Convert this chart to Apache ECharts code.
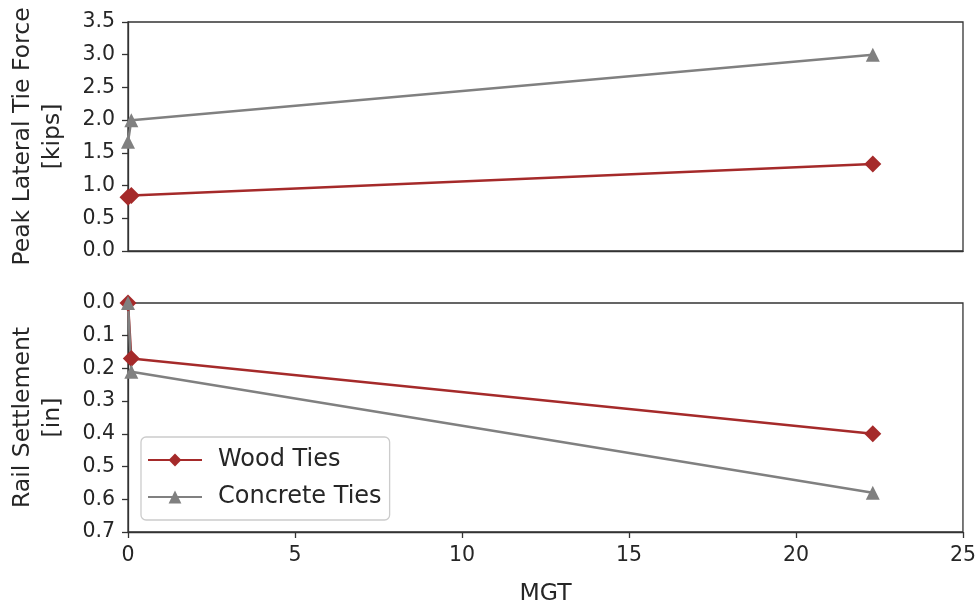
<!DOCTYPE html>
<html><head><meta charset="utf-8">
<script src="https://cdn.jsdelivr.net/npm/echarts@6/dist/echarts.min.js"></script>
<style>html,body{margin:0;padding:0;background:#fff}#c{width:979px;height:607px}</style>
</head><body><div id="c"></div>
<script>
const mgt = [0, 0.1, 22.3];
const woodForce = [0.82, 0.85, 1.33];
const concreteForce = [1.67, 2.0, 3.0];
const woodSettle = [0, 0.17, 0.40];
const concreteSettle = [0, 0.21, 0.58];
const xTicks = [0, 5, 10, 15, 20, 25];

const pairs = (xs, ys) => xs.map((x, i) => [x, ys[i]]);
const FONT = 'DejaVu Sans';
const TXT = '#262626';
const AX = '#333';
const RED = '#a52a2a';
const GREY = '#808080';

const chart = echarts.init(document.getElementById('c'), null, {renderer: 'canvas'});
const gridCommon = {left: 127, right: 16, height: 229, show: true, borderColor: AX, borderWidth: 1.3, containLabel: false};
const yCommon = {
  type: 'value', position: 'left',
  axisLine: {show: true, onZero: false, lineStyle: {color: AX, width: 1.3}},
  axisTick: {show: true, length: 6, inside: false, lineStyle: {color: AX, width: 1.3}},
  axisLabel: {color: TXT, fontFamily: FONT, fontSize: 20.5, margin: 13},
  splitLine: {show: false},
  nameLocation: 'middle', nameRotate: 90,
  nameTextStyle: {color: TXT, fontFamily: FONT, fontSize: 23.5, lineHeight: 30, align: 'center'}
};
const seriesCommon = (name, color, symbol, size, xAxisIndex, data) => ({
  name, type: 'line', xAxisIndex, yAxisIndex: xAxisIndex, data,
  symbol, symbolSize: size, showSymbol: true, clip: false, animation: false,
  lineStyle: {color, width: 2.5}, itemStyle: {color}, emphasis: {disabled: true}
});

chart.setOption({
  animation: false,
  grid: [Object.assign({top: 22}, gridCommon), Object.assign({top: 303}, gridCommon)],
  xAxis: [
    {type: 'value', gridIndex: 0, min: 0, max: 25, interval: 5, position: 'bottom',
     axisLine: {show: true, onZero: false, lineStyle: {color: AX, width: 1.3}}, axisTick: {show: false},
     axisLabel: {show: false}, splitLine: {show: false}},
    {type: 'value', gridIndex: 1, min: 0, max: 25, interval: 5, position: 'bottom',
     axisLine: {show: true, onZero: false, lineStyle: {color: AX, width: 1.3}},
     axisTick: {show: true, length: 6, lineStyle: {color: AX, width: 1.3}},
     axisLabel: {color: TXT, fontFamily: FONT, fontSize: 20.5, margin: 13,
       formatter: v => xTicks.includes(v) ? String(v) : ''},
     splitLine: {show: false},
     name: 'MGT', nameLocation: 'middle', nameGap: 50,
     nameTextStyle: {color: TXT, fontFamily: FONT, fontSize: 23.5}}
  ],
  yAxis: [
    Object.assign({}, yCommon, {gridIndex: 0, min: 0, max: 3.5, interval: 0.5,
      axisLabel: Object.assign({}, yCommon.axisLabel, {formatter: v => v.toFixed(1)}),
      name: 'Peak Lateral Tie Force\n[kips]', nameGap: 60}),
    Object.assign({}, yCommon, {gridIndex: 1, min: 0, max: 0.7, interval: 0.1, inverse: true,
      axisLabel: Object.assign({}, yCommon.axisLabel, {formatter: v => v.toFixed(1)}),
      name: 'Rail Settlement\n[in]', nameGap: 60})
  ],
  legend: {
    left: 141, top: 437, orient: 'vertical',
    backgroundColor: '#fff', borderColor: '#cccccc', borderWidth: 1.3, borderRadius: 5,
    padding: [11, 8, 11, 6], itemGap: 13, itemWidth: 54, itemHeight: 16,
    textStyle: {color: TXT, fontFamily: FONT, fontSize: 24, padding: [0, 0, 0, 11]},
    data: ['Wood Ties', 'Concrete Ties']
  },
  series: [
    seriesCommon('Wood Ties', RED, 'diamond', 17, 0, pairs(mgt, woodForce)),
    seriesCommon('Concrete Ties', GREY, 'triangle', 14, 0, pairs(mgt, concreteForce)),
    seriesCommon('Wood Ties', RED, 'diamond', 17, 1, pairs(mgt, woodSettle)),
    seriesCommon('Concrete Ties', GREY, 'triangle', 14, 1, pairs(mgt, concreteSettle))
  ]
});
</script></body></html>
